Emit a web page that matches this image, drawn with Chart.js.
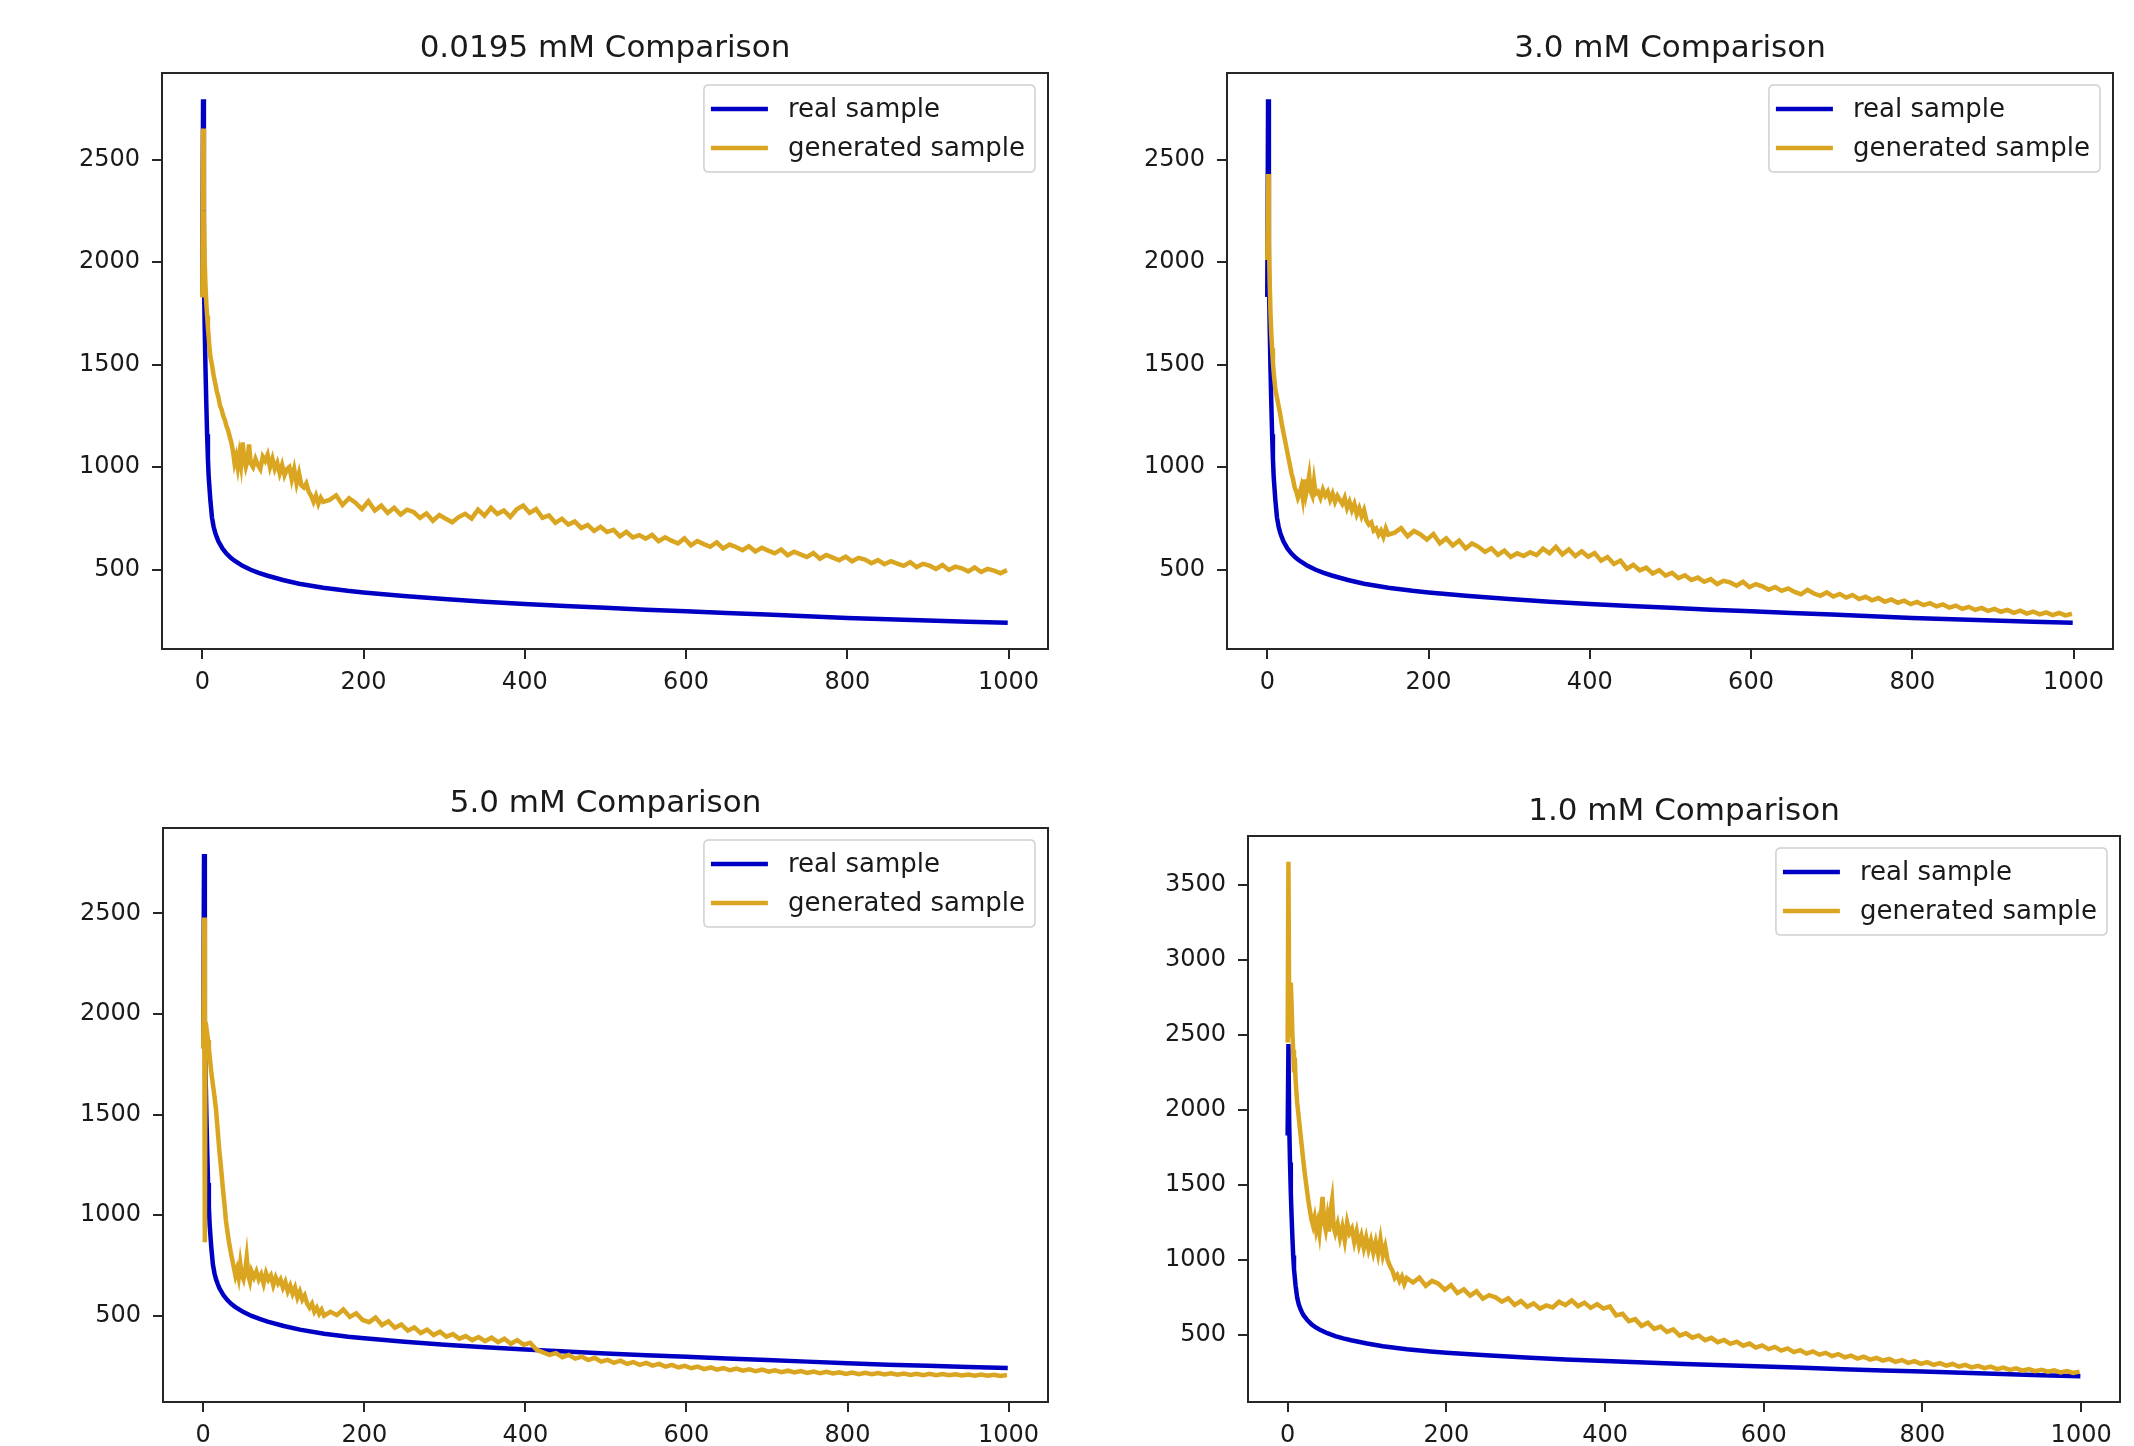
<!DOCTYPE html>
<html>
<head>
<meta charset="utf-8">
<script src="https://cdn.jsdelivr.net/npm/chart.js@4/dist/chart.umd.min.js"></script>
<style>
  html, body { margin: 0; padding: 0; background: #ffffff; }
  body { width: 2134px; height: 1446px; overflow: hidden; position: relative; }
  canvas { position: absolute; }
</style>
</head>
<body>
<canvas id="c1"></canvas>
<canvas id="c2"></canvas>
<canvas id="c3"></canvas>
<canvas id="c4"></canvas>
<script>
// ---------------- DATA ----------------
const panelTitles = ['0.0195 mM Comparison', '3.0 mM Comparison', '5.0 mM Comparison', '1.0 mM Comparison'];
const seriesLabels = ['real sample', 'generated sample'];
const xTickValues = [0, 200, 400, 600, 800, 1000];
const yTickValuesStd = [500, 1000, 1500, 2000, 2500];
const yTickValues1mM = [500, 1000, 1500, 2000, 2500, 3000, 3500];

// x positions of the real-sample readings
const realX = [0,1,2,3,4,5,6,7,8,10,12,14,16,18,20,25,30,35,40,50,60,70,80,100,120,150,180,200,250,300,350,400,450,500,550,600,650,700,750,800,850,900,950,999];
// real sample (0.0195, 3.0 and 5.0 mM panels)
const realSample = [1830,2795,1950,1680,1480,1310,1160,1040,950,840,755,710,680,658,638,603,578,558,543,518,499,484,471,449,431,411,396,388,371,356,343,332,322,313,304,296,288,280,272,264,257,251,245,240];
// real sample (1.0 mM panel)
const realSample1mM = [1830,2440,1900,1650,1450,1290,1150,1030,940,830,750,705,675,652,632,598,572,552,537,512,493,478,465,443,425,405,390,382,365,350,337,326,316,306,298,290,281,272,264,256,248,240,232,225];

// x positions of the generated-sample readings
const genX = [0,1,2,3,4,5,6,7,8,9,10,
  12,14,16,18,20,22,24,26,28,30,32,34,36,38,40,42,44,46,48,50,52,54,56,58,60,
  63,66,69,72,75,78,81,84,87,90,93,96,99,102,105,108,111,114,117,120,123,126,129,132,135,138,141,144,147,150,
  158,166,174,182,190,198,206,214,222,230,238,246,254,262,270,278,286,294,302,310,
  318,326,334,342,350,358,366,374,382,390,398,406,414,422,430,438,446,454,462,470,
  478,486,494,502,510,518,526,534,542,550,558,566,574,582,590,598,606,614,622,630,
  638,646,654,662,670,678,686,694,702,710,718,726,734,742,750,758,766,774,782,790,
  798,806,814,822,830,838,846,854,862,870,878,886,894,902,910,918,926,934,942,950,
  958,966,974,982,990,998];

const gen0195 = [1828,2652,2250,2000,1880,1800,1740,1680,1630,1580,1540,
  1500,1450,1410,1370,1340,1300,1280,1250,1230,1200,1180,1150,1120,1080,1020,1050,1000,1060,1010,1120,1040,1000,1030,1110,1020,
  1000,1040,1010,990,1050,1030,1060,1000,1040,990,1020,970,1010,960,990,1000,940,990,920,970,910,900,920,880,860,830,860,820,850,830,
  840,862,815,848,826,795,833,788,812,776,801,768,792,781,752,774,738,766,748,731,
  756,772,749,792,763,801,771,788,757,794,812,776,795,752,764,728,748,719,734,703,
  718,688,709,683,694,662,684,657,668,651,669,638,657,641,627,652,618,639,624,611,
  633,603,622,610,594,614,588,606,592,579,598,570,587,574,561,580,553,571,558,545,
  563,540,557,549,531,546,526,541,529,518,536,512,528,519,503,522,498,514,506,491,
  510,488,503,495,482,497];

const gen3_0 = [2010,2430,2100,1900,1750,1650,1580,1510,1460,1420,1380,
  1340,1300,1260,1210,1170,1130,1090,1050,1010,970,940,900,880,850,870,900,850,940,870,910,960,880,860,930,870,
  880,850,890,860,880,840,870,830,860,840,820,850,800,830,790,820,770,800,760,790,740,720,730,690,700,670,690,660,700,670,
  680,702,662,688,671,646,673,628,652,617,641,603,627,611,586,604,572,592,561,579,
  566,584,571,602,579,611,574,598,566,589,562,580,543,561,527,544,504,523,496,509,
  481,497,470,484,458,472,449,461,440,453,429,445,437,421,440,414,429,418,401,415,
  396,408,391,379,401,383,372,389,368,381,363,376,356,367,350,361,343,354,338,348,
  331,342,326,336,320,330,314,324,308,318,303,313,298,308,294,303,289,299,285,295,
  281,291,278,288,276,284];

const gen5_0 = [1830,2480,866,1960,1930,1900,1870,1830,1790,1750,1710,
  1650,1590,1520,1420,1320,1240,1150,1070,980,920,866,820,780,740,700,730,690,760,700,680,720,790,700,670,720,
  690,720,680,705,660,712,680,700,652,690,660,680,640,668,622,650,610,640,590,620,580,600,560,540,560,520,540,510,530,500,
  520,503,531,494,512,479,468,491,454,472,440,457,426,442,414,431,404,421,396,409,
  386,399,379,394,374,391,369,386,361,379,356,366,331,318,306,314,294,305,287,297,
  280,291,272,281,266,277,261,270,256,266,252,261,247,256,243,251,239,247,235,243,
  232,240,229,237,227,234,224,232,222,229,220,227,218,225,216,223,214,221,213,219,
  211,218,210,216,209,215,208,214,207,213,206,212,205,211,204,210,204,209,203,208,
  202,208,202,207,201,206];

const gen1_0 = [2450,3655,2600,2500,2850,2700,2500,2400,2250,2350,2200,
  2050,1950,1850,1750,1650,1560,1480,1400,1330,1270,1230,1280,1200,1250,1180,1300,1420,1250,1200,1280,1190,1330,1400,1220,1180,
  1240,1150,1220,1130,1250,1180,1210,1120,1190,1100,1160,1080,1150,1070,1130,1050,1120,1040,1140,1030,1090,1000,960,930,880,900,860,890,840,880,
  850,882,828,861,842,801,833,779,804,762,791,742,766,751,722,745,701,727,689,711,
  676,697,684,722,699,731,692,716,681,706,676,690,631,642,592,606,561,582,541,556,
  521,537,496,511,482,497,466,481,452,467,441,456,429,443,416,431,406,421,396,411,
  386,399,376,391,369,381,359,373,351,363,343,356,336,347,329,341,321,333,314,326,
  308,319,301,313,296,307,290,301,284,295,279,289,273,283,268,278,263,273,259,268,
  255,264,251,260,247,256];

// ---------------- STYLE ----------------
const FONT = '"DejaVu Sans", "Liberation Sans", sans-serif';
const BLUE = '#0000c4';
const GOLD = '#daa520';
const INK = '#1a1a1a';
const FRAME = '#262626';

const framePlugin = {
  id: 'frame',
  afterDatasetsDraw(chart) {
    const a = chart.chartArea, ctx = chart.ctx;
    ctx.save();
    ctx.strokeStyle = FRAME;
    ctx.lineWidth = 2;
    ctx.strokeRect(a.left, a.top, a.right - a.left, a.bottom - a.top);
    ctx.restore();
  }
};

const mplLegend = {
  id: 'mplLegend',
  afterDraw(chart) {
    const a = chart.chartArea, ctx = chart.ctx;
    const ds = chart.data.datasets;
    ctx.save();
    ctx.font = '26px ' + FONT;
    let tw = 0;
    ds.forEach(d => { tw = Math.max(tw, ctx.measureText(d.label).width); });
    const bw = 84 + tw + 10, bh = 87;
    const x0 = a.right - 13 - bw, y0 = a.top + 12;
    const r = 5;
    ctx.beginPath();
    ctx.moveTo(x0 + r, y0);
    ctx.lineTo(x0 + bw - r, y0);
    ctx.quadraticCurveTo(x0 + bw, y0, x0 + bw, y0 + r);
    ctx.lineTo(x0 + bw, y0 + bh - r);
    ctx.quadraticCurveTo(x0 + bw, y0 + bh, x0 + bw - r, y0 + bh);
    ctx.lineTo(x0 + r, y0 + bh);
    ctx.quadraticCurveTo(x0, y0 + bh, x0, y0 + bh - r);
    ctx.lineTo(x0, y0 + r);
    ctx.quadraticCurveTo(x0, y0, x0 + r, y0);
    ctx.closePath();
    ctx.fillStyle = 'rgba(255,255,255,0.85)';
    ctx.fill();
    ctx.strokeStyle = '#d0d0d0';
    ctx.lineWidth = 1.5;
    ctx.stroke();
    ds.forEach((d, i) => {
      const cy = y0 + 24 + i * 39;
      ctx.beginPath();
      ctx.moveTo(x0 + 7, cy);
      ctx.lineTo(x0 + 64, cy);
      ctx.strokeStyle = d.borderColor;
      ctx.lineWidth = 4.5;
      ctx.stroke();
      ctx.fillStyle = INK;
      ctx.textBaseline = 'middle';
      ctx.textAlign = 'left';
      ctx.fillText(d.label, x0 + 84, cy + 1);
    });
    ctx.restore();
  }
};

function pts(xs, ys) {
  if (xs.length !== ys.length) console.warn('length mismatch', xs.length, ys.length);
  return xs.map((x, i) => ({ x: x, y: ys[i] }));
}

function makePanel(id, box, title, realY, genY, yTicks) {
  const YW = 130, TH = 60, XH = 60, PR = 20;
  const canvas = document.getElementById(id);
  canvas.width = box.R - box.L + YW + PR;
  canvas.height = box.B - box.T + TH + XH;
  canvas.style.left = (box.L - YW) + 'px';
  canvas.style.top = (box.T - TH) + 'px';
  const all = realY.concat(genY);
  const lo = Math.min.apply(null, all), hi = Math.max.apply(null, all);
  const pad = 0.05 * (hi - lo);
  const xmin = Math.min(realX[0], genX[0]), xmax = 999;
  const xpad = 0.05 * (xmax - xmin);
  const tickFont = { family: FONT, size: 24 };
  new Chart(canvas, {
    type: 'line',
    data: {
      datasets: [
        { label: seriesLabels[0], data: pts(realX, realY), borderColor: BLUE, backgroundColor: BLUE,
          borderWidth: 4.5, pointRadius: 0, tension: 0, fill: false, order: 1 },
        { label: seriesLabels[1], data: pts(genX, genY), borderColor: GOLD, backgroundColor: GOLD,
          borderWidth: 4.5, pointRadius: 0, tension: 0, fill: false, order: 0 }
      ]
    },
    options: {
      responsive: false,
      animation: false,
      devicePixelRatio: 1,
      layout: { padding: { left: 0, right: PR, top: 0, bottom: 0 } },
      plugins: {
        legend: { display: false },
        tooltip: { enabled: false },
        title: {
          display: true, text: title, fullSize: false, color: INK,
          font: { family: FONT, size: 31, weight: 'normal' },
          padding: { top: 17.8, bottom: 5 }
        }
      },
      scales: {
        x: {
          type: 'linear', min: xmin - xpad, max: xmax + xpad,
          afterBuildTicks: s => { s.ticks = xTickValues.map(v => ({ value: v })); },
          afterFit: s => { s.height = XH; },
          ticks: { font: tickFont, color: INK, padding: 9, maxRotation: 0, autoSkip: false, callback: v => String(v) },
          grid: { drawOnChartArea: false, drawTicks: true, tickLength: 10, color: FRAME, lineWidth: 2 },
          border: { display: false }
        },
        y: {
          type: 'linear', min: lo - pad, max: hi + pad,
          afterBuildTicks: s => { s.ticks = yTicks.map(v => ({ value: v })); },
          afterFit: s => { s.width = YW; },
          ticks: { font: tickFont, color: INK, padding: 12, autoSkip: false, callback: v => String(v) },
          grid: { drawOnChartArea: false, drawTicks: true, tickLength: 10, color: FRAME, lineWidth: 2 },
          border: { display: false }
        }
      }
    },
    plugins: [framePlugin, mplLegend]
  });
}

makePanel('c1', { L: 162, T: 73, R: 1048, B: 649 }, panelTitles[0], realSample, gen0195, yTickValuesStd);
makePanel('c2', { L: 1227, T: 73, R: 2113, B: 649 }, panelTitles[1], realSample, gen3_0, yTickValuesStd);
makePanel('c3', { L: 163, T: 828, R: 1048, B: 1402 }, panelTitles[2], realSample, gen5_0, yTickValuesStd);
makePanel('c4', { L: 1248, T: 836, R: 2120, B: 1402 }, panelTitles[3], realSample1mM, gen1_0, yTickValues1mM);
</script>
</body>
</html>
